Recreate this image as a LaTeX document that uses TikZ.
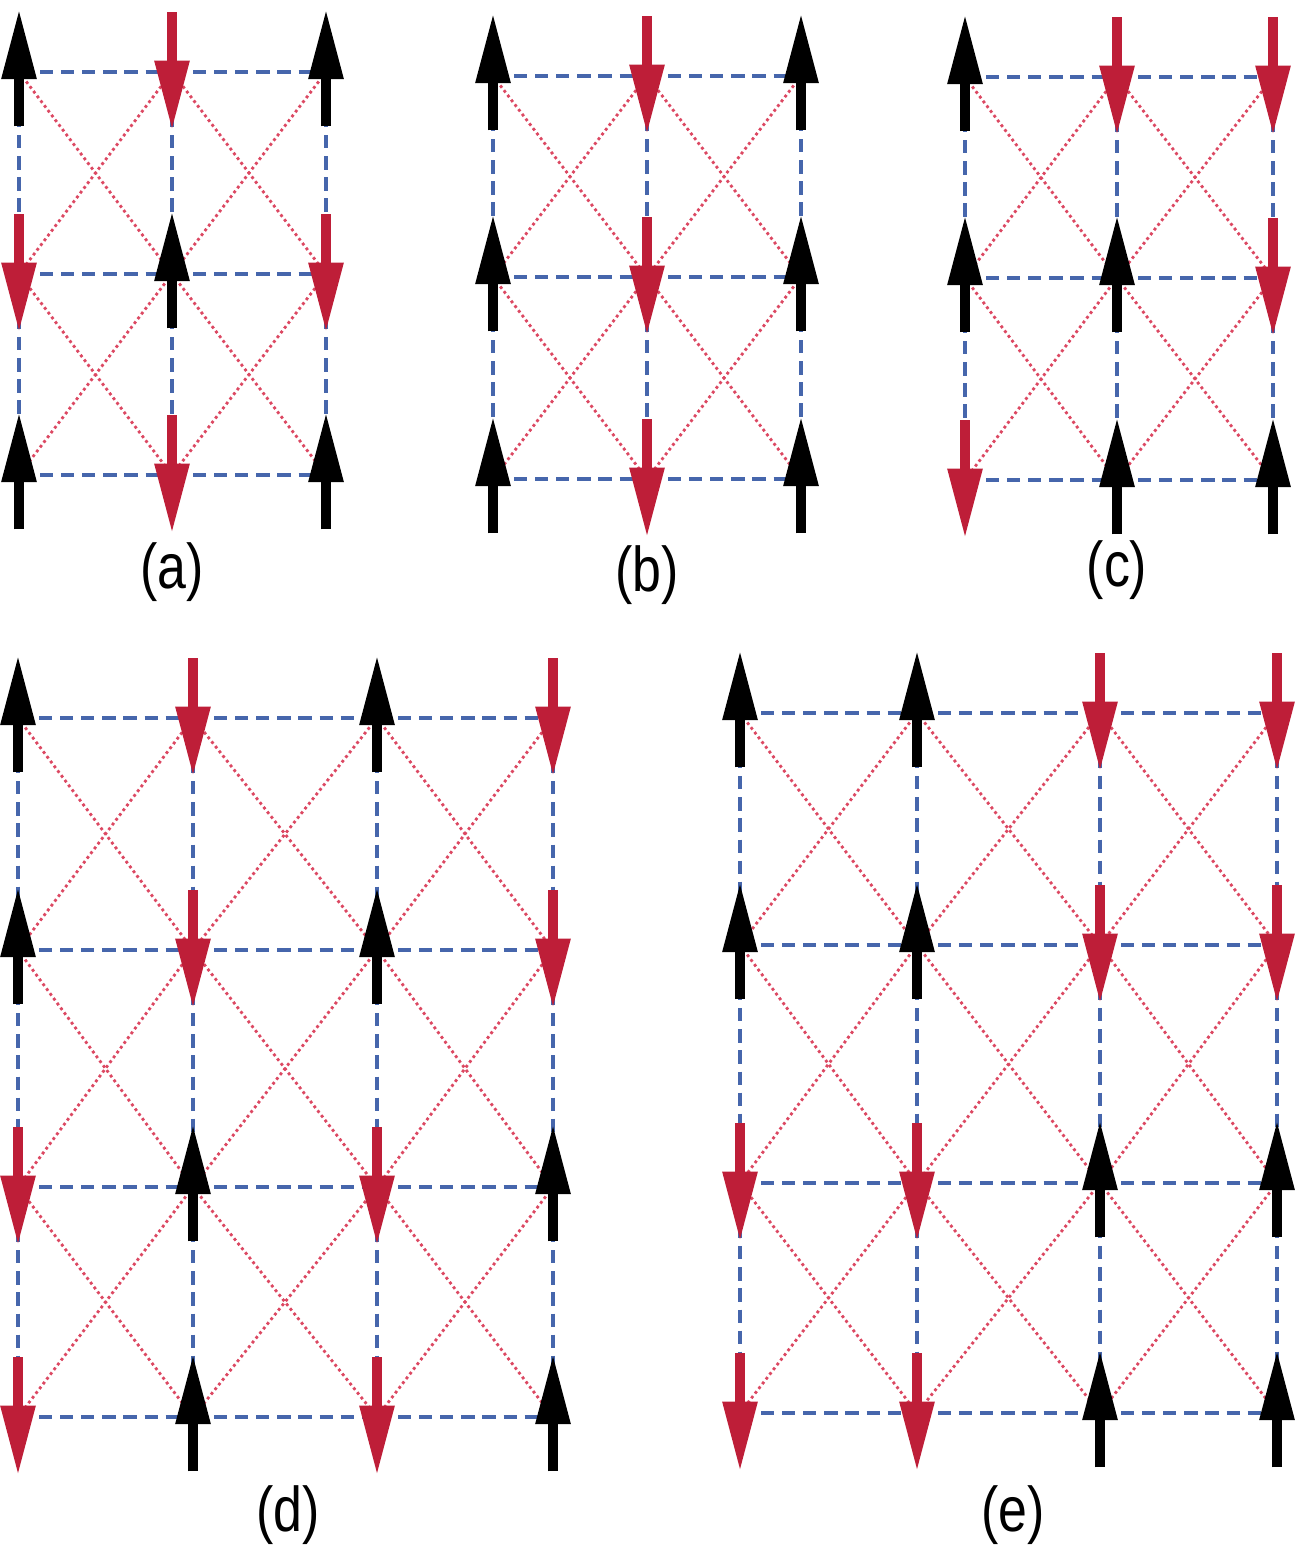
\documentclass[tikz,border=0pt]{standalone}
\usepackage{fontspec}
\setmainfont{Liberation Sans}
\usetikzlibrary{arrows.meta}
\definecolor{bondblue}{RGB}{70,102,172}
\definecolor{diagred}{RGB}{220,72,98}
\definecolor{spinred}{RGB}{190,30,56}

\begin{document}
\begin{tikzpicture}[x=0.02cm,y=-0.02cm,
  bond/.style={bondblue,line width=2.4pt,dash pattern=on 7.5pt off 4.5pt},
  diag/.style={diagred,line width=1.6pt,dash pattern=on 1.6pt off 1.8pt},
  spin/.style={line width=5.9pt,-{Triangle[length=40pt,width=18.5pt]}},
  up/.style={spin,black},
  down/.style={spin,spinred},
  lbl/.style={font=\fontsize{36}{40}\selectfont}]
\useasboundingbox (0,0) rectangle (1295,1550);

\foreach \x [count=\i] in {19,172,326}
  \foreach \y [count=\j] in {72,274,475}
    \coordinate (a\i\j) at (\x,\y);
\foreach \x [count=\i] in {493,647,801}
  \foreach \y [count=\j] in {76,277,479}
    \coordinate (b\i\j) at (\x,\y);
\foreach \x [count=\i] in {965,1117,1273}
  \foreach \y [count=\j] in {77,278,480}
    \coordinate (c\i\j) at (\x,\y);
\foreach \x [count=\i] in {18,193,377,553}
  \foreach \y [count=\j] in {718,950,1187,1417}
    \coordinate (d\i\j) at (\x,\y);
\foreach \x [count=\i] in {740,917,1100,1277}
  \foreach \y [count=\j] in {713,945,1183,1413}
    \coordinate (e\i\j) at (\x,\y);

\foreach \p in {a,b,c} {
  \foreach \i/\k in {1/2,2/3} {
    \foreach \j/\l in {1/2,2/3} {
      \draw[diag] (\p\i\j) -- (\p\k\l);
      \draw[diag] (\p\k\j) -- (\p\i\l);
    }
    \foreach \j in {1,2,3} {
      \draw[bond] (\p\i\j) -- (\p\k\j);
      \draw[bond] (\p\j\i) -- (\p\j\k);
    }
  }
}
\foreach \p in {d,e} {
  \foreach \i/\k in {1/2,2/3,3/4} {
    \foreach \j/\l in {1/2,2/3,3/4} {
      \draw[diag] (\p\i\j) -- (\p\k\l);
      \draw[diag] (\p\k\j) -- (\p\i\l);
    }
    \foreach \j in {1,2,3,4} {
      \draw[bond] (\p\i\j) -- (\p\k\j);
      \draw[bond] (\p\j\i) -- (\p\j\k);
    }
  }
}

\foreach \s in {a11,a31,a22,a13,a33, b11,b12,b13,b31,b32,b33,
                c11,c12,c22,c23,c33, d11,d31,d12,d32,d23,d43,d24,d44,
                e11,e21,e12,e22,e33,e43,e34,e44}
  \draw[up] ([yshift=-31pt]\s) -- ([yshift=36pt]\s);
\foreach \s in {a21,a12,a32,a23, b21,b22,b23, c21,c31,c32,c13,
                d21,d41,d22,d42,d13,d33,d14,d34,
                e31,e41,e32,e42,e13,e23,e14,e24}
  \draw[down] ([yshift=34pt]\s) -- ([yshift=-33.5pt]\s);

\node[lbl] (la) at (172,572) {\scalebox{0.82}[1]{(a)}};
\node[lbl] (lb) at (647,575) {\scalebox{0.82}[1]{(b)}};
\node[lbl] (lc) at (1117,570) {\scalebox{0.82}[1]{(c)}};
\node[lbl] (ld) at (288,1515) {\scalebox{0.82}[1]{(d)}};
\node[lbl] (le) at (1013,1515) {\scalebox{0.82}[1]{(e)}};
\end{tikzpicture}
\end{document}
